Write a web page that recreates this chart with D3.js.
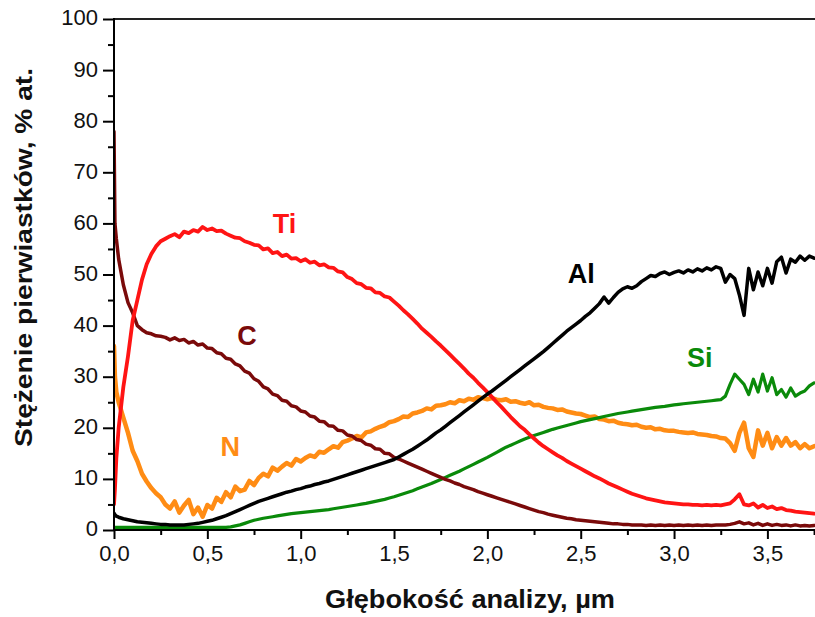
<!DOCTYPE html>
<html>
<head>
<meta charset="utf-8">
<script src="https://cdn.jsdelivr.net/npm/d3@7/dist/d3.min.js"></script>
<style>
  html, body { margin: 0; padding: 0; background: #fff; }
  svg { display: block; font-family: "Liberation Sans", Arial, Helvetica, sans-serif; }
</style>
</head>
<body>
<svg id="chart" width="815" height="617"></svg>
<script>
// ---- data (depth in µm, concentration in % at.) ----
const depth = [
  0, 0.005, 0.0125,
  0.025,0.05,0.075,0.1,0.125,0.15,0.175,0.2,0.225,0.25,
  0.275,0.3,0.325,0.35,0.375,0.4,0.425,0.45,0.475,0.5,
  0.525,0.55,0.575,0.6,0.625,0.65,0.675,0.7,0.725,0.75,
  0.775,0.8,0.825,0.85,0.875,0.9,0.925,0.95,0.975,1.0,
  1.025,1.05,1.075,1.1,1.125,1.15,1.175,1.2,1.225,1.25,
  1.275,1.3,1.325,1.35,1.375,1.4,1.425,1.45,1.475,1.5,
  1.525,1.55,1.575,1.6,1.625,1.65,1.675,1.7,1.725,1.75,
  1.775,1.8,1.825,1.85,1.875,1.9,1.925,1.95,1.975,2.0,
  2.025,2.05,2.075,2.1,2.125,2.15,2.175,2.2,2.225,2.25,
  2.275,2.3,2.325,2.35,2.375,2.4,2.425,2.45,2.475,2.5,
  2.525,2.55,2.575,2.6,2.625,2.65,2.675,2.7,2.725,2.75,
  2.775,2.8,2.825,2.85,2.875,2.9,2.925,2.95,2.975,3.0,
  3.025,3.05,3.075,3.1,3.125,3.15,3.175,3.2,3.225,3.25,
  3.275,3.3,3.325,3.35,3.375,3.4,3.425,3.45,3.475,3.5,
  3.525,3.55,3.575,3.6,3.625,3.65,3.675,3.7,3.725,3.75
];

const ti = [
  5, 8, 14,
  20,28,34,41,45,49,52,54,55.5,56.5,
  57,57.5,57.9,57.3,58.4,58.1,58.7,58.4,59.3,58.7,
  59,58.5,58.6,58,57.6,57.2,57.1,56.5,56.2,55.8,
  55.7,54.9,55.1,54.2,54.4,53.6,53.9,53.1,53.2,52.6,
  53,52.3,52.5,51.8,52,51.4,51.3,50.6,50.4,49.5,
  49.1,48.3,48.1,47.4,47.3,46.5,46.4,45.7,45.5,44.7,
  43.9,43,42.2,41.3,40.4,39.4,38.6,37.8,36.9,36.1,
  35.2,34.3,33.4,32.5,31.6,30.6,29.8,28.8,27.9,27,
  26,25,24.1,23.1,22.1,21.2,20.3,19.6,18.7,17.9,
  17.1,16.4,15.8,15.2,14.6,14.1,13.5,13,12.5,12,
  11.5,11,10.5,10.1,9.6,9.1,8.7,8.3,7.9,7.5,
  7.1,6.8,6.5,6.2,6,5.8,5.6,5.4,5.3,5.2,
  5.1,5,5,4.9,4.9,4.8,4.9,4.8,4.9,4.8,
  5,5.2,6,7,5,4.8,5.2,4.4,4.9,4.3,
  4.6,4.1,4.3,3.9,3.8,3.6,3.5,3.4,3.3,3.2
];

const carbon = [
  78, 60, 57,
  53,48,44.5,42.5,40,39.2,38.6,38.4,38,37.9,
  37.7,37.2,37.6,37.1,37.3,36.6,36.9,36.2,36.4,35.6,
  35.5,34.7,34.5,33.6,33.4,32.5,32.1,31.1,30.7,29.6,
  29.1,28,27.6,26.6,26.3,25.4,25.2,24.3,24.1,23.3,
  23.1,22.3,22.1,21.3,21.2,20.4,20.3,19.5,19.4,18.6,
  18.4,17.7,17.5,16.8,16.6,15.9,15.8,15.0,14.9,14.2,
  13.9,13.5,13.1,12.7,12.3,11.9,11.5,11.1,10.7,10.3,
  9.9,9.6,9.2,8.9,8.5,8.2,7.9,7.5,7.2,6.9,
  6.6,6.3,6,5.7,5.4,5.1,4.8,4.5,4.2,3.9,
  3.6,3.4,3.1,2.9,2.7,2.5,2.3,2.2,2.0,1.9,
  1.8,1.7,1.6,1.5,1.4,1.3,1.2,1.2,1.1,1.1,
  1.0,1.0,1.0,0.9,1.0,0.9,1.0,0.9,1.0,0.9,
  1.0,0.9,1.0,0.9,1.0,0.9,1.0,0.9,1.0,1.0,
  1.0,1.1,1.3,1.6,1.2,1.4,1.0,1.3,0.9,1.2,
  0.9,1.1,0.9,1.0,0.8,1.0,0.8,0.9,0.8,0.9
];

const nitrogen = [
  36, 30, 27,
  25,22,19,15.5,13.5,11,9.5,8.2,7.2,6.4,
  5,4.2,5.6,3.4,4.8,5.9,3.1,4.4,2.6,4.9,
  4.2,6.3,5.5,7.4,6.4,8.5,7.6,7.9,9.6,8.8,
  10.2,11,10.5,12.2,11.6,12.4,13.1,12.6,13.9,13.4,
  14.1,14.6,14.3,15.3,15.1,15.8,16.4,16.1,17.2,17.5,
  17.9,18.4,18.1,19.1,19.3,19.8,20.2,20.5,21.1,21.3,
  21.7,22.2,22.1,22.8,23,23.3,23.8,23.6,24.3,24.4,
  24.6,25,24.8,25.4,25.2,25.7,25.5,26,25.8,25.6,
  25.8,25.5,25.4,25.6,25.1,25.2,24.9,24.7,25,24.4,
  24.5,24.1,23.9,23.8,23.5,23.6,23.2,23,22.8,22.7,
  22.4,22.1,22.2,21.7,21.6,21.3,21.4,21,20.8,20.7,
  20.5,20.6,20.2,20,20.1,19.7,19.8,19.5,19.4,19.4,
  19.2,19.1,19,19.1,18.8,18.7,18.6,18.4,18.3,18,
  17.9,17,15.5,19,21,16,14.3,19.5,16.5,19,
  16,18.2,16.5,18,16.5,17.2,16,16.8,16,16.4
];

const aluminium = [
  3.3, 3, 2.7,
  2.5,2.2,2,1.8,1.6,1.5,1.4,1.3,1.2,1.1,
  1.1,1.0,1.0,1.0,1.0,1.1,1.2,1.3,1.5,1.7,
  1.9,2.2,2.5,2.8,3.2,3.6,4,4.4,4.8,5.2,
  5.6,5.9,6.2,6.5,6.8,7.1,7.4,7.6,7.9,8.1,
  8.4,8.6,8.9,9.1,9.4,9.6,9.9,10.2,10.5,10.8,
  11.1,11.4,11.7,12,12.3,12.6,12.9,13.2,13.5,13.8,
  14.3,14.8,15.3,15.8,16.4,17,17.6,18.3,19,19.6,
  20.3,21,21.7,22.4,23.1,23.8,24.5,25.2,25.9,26.6,
  27.2,27.9,28.6,29.3,30,30.7,31.4,32.1,32.8,33.5,
  34.2,34.9,35.7,36.5,37.3,38.1,38.9,39.6,40.3,41,
  41.8,42.5,43.4,44.3,45.6,44.4,45.5,46.5,47.2,47.6,
  47.3,47.8,48.6,49.2,49.8,49.6,50.2,50.5,50,50.4,
  50.7,50.3,50.9,50.5,51.1,50.7,51.3,50.9,51.5,51.2,
  48.5,50,49.2,46,42,51.2,47,50.5,47.8,51.2,
  48.3,52.5,53.4,50.3,53,52.4,53.6,52.8,53.6,53.2
];

const silicon = [
  0.5, 0.5, 0.5,
  0.5,0.5,0.5,0.5,0.5,0.5,0.5,0.5,0.5,0.5,
  0.5,0.5,0.5,0.5,0.5,0.5,0.5,0.5,0.5,0.5,
  0.5,0.5,0.5,0.5,0.6,0.8,1.0,1.3,1.6,1.9,
  2.1,2.3,2.45,2.6,2.75,2.9,3.05,3.2,3.3,3.4,
  3.5,3.6,3.7,3.8,3.9,4.0,4.15,4.3,4.45,4.6,
  4.75,4.9,5.05,5.2,5.4,5.6,5.8,6,6.25,6.5,
  6.8,7.1,7.4,7.7,8.05,8.4,8.75,9.1,9.5,9.9,
  10.3,10.7,11.1,11.5,11.95,12.4,12.85,13.3,13.75,14.2,
  14.7,15.2,15.7,16.2,16.6,17,17.4,17.8,18.15,18.5,
  18.8,19.1,19.4,19.7,19.95,20.2,20.45,20.7,20.95,21.2,
  21.4,21.6,21.8,22,22.2,22.4,22.6,22.8,22.95,23.1,
  23.25,23.4,23.55,23.7,23.85,24,24.1,24.2,24.35,24.5,
  24.6,24.7,24.8,24.9,25,25.1,25.2,25.3,25.4,25.5,
  26.2,28.5,30.5,29.5,28.5,26.5,29.5,27,30.5,27.2,
  29.8,26.5,27.5,26,27.8,26.2,26.8,27.2,28.2,28.8
];

const xTicks = [0, 0.5, 1.0, 1.5, 2.0, 2.5, 3.0, 3.5];
const xMinorTicks = [0.25, 0.75, 1.25, 1.75, 2.25, 2.75, 3.25, 3.75];
const yTicks = [0, 10, 20, 30, 40, 50, 60, 70, 80, 90, 100];
const yMinorTicks = [5, 15, 25, 35, 45, 55, 65, 75, 85, 95];

const seriesNames = ["N", "Si", "C", "Ti", "Al"];
const seriesValues = [nitrogen, silicon, carbon, ti, aluminium];
const seriesColors = ["#ff8c14", "#0a8a0a", "#7a0a0a", "#ff1414", "#000000"];
const seriesWidths = [4.5, 3.2, 3.5, 3.8, 3.5];
// label anchor positions in data units (depth, value)
const labelPos = [[0.57, 14.4], [3.07, 31.9], [0.66, 36.3], [0.85, 58.2], [2.43, 48.3]];

// ---- chart ----
const svg = d3.select("#chart");
const mLeft = 114, mRight = 815, mTop = 19, mBottom = 530;
const x = d3.scaleLinear().domain([0, 3.755]).range([mLeft, mRight]);
const y = d3.scaleLinear().domain([0, 100]).range([mBottom, mTop]);

const fmtX = d => d3.format(".1f")(d).replace(".", ",");

// top frame line
svg.append("line")
  .attr("x1", mLeft).attr("x2", mRight)
  .attr("y1", y(100)).attr("y2", y(100))
  .attr("stroke", "#222").attr("stroke-width", 2);

// clip
svg.append("clipPath").attr("id", "plotclip")
  .append("rect").attr("x", mLeft).attr("y", mTop - 5)
  .attr("width", mRight - mLeft + 5).attr("height", mBottom - mTop + 5);

const line = vals => d3.line()
  .x((d, i) => x(depth[i]))
  .y(d => y(d))(vals);

const plot = svg.append("g").attr("clip-path", "url(#plotclip)");
seriesValues.forEach((vals, k) => {
  plot.append("path")
    .attr("d", line(vals))
    .attr("fill", "none")
    .attr("stroke", seriesColors[k])
    .attr("stroke-width", seriesWidths[k])
    .attr("stroke-linejoin", "round")
    .attr("stroke-linecap", "round");
});

// axes
const xAxis = svg.append("g").attr("transform", `translate(0,${mBottom})`)
  .call(d3.axisBottom(x).tickValues(xTicks).tickFormat(fmtX).tickSize(9).tickSizeOuter(0).tickPadding(6));
const xMinor = svg.append("g").attr("transform", `translate(0,${mBottom})`)
  .call(d3.axisBottom(x).tickValues(xMinorTicks).tickFormat("").tickSize(5).tickSizeOuter(0));
const yAxis = svg.append("g").attr("transform", `translate(${mLeft},0)`)
  .call(d3.axisLeft(y).tickValues(yTicks).tickSize(11).tickSizeOuter(0).tickPadding(5));
const yMinor = svg.append("g").attr("transform", `translate(${mLeft},0)`)
  .call(d3.axisLeft(y).tickValues(yMinorTicks).tickFormat("").tickSize(6).tickSizeOuter(0));

[xAxis, xMinor, yAxis, yMinor].forEach(g => {
  g.select(".domain").remove();
  g.selectAll(".tick line").attr("stroke", "#000").attr("stroke-width", 2);
  g.selectAll("text").attr("font-size", 22).attr("fill", "#111")
    .attr("font-family", '"Liberation Sans", Arial, sans-serif');
});
yAxis.selectAll("text").attr("dy", "0.27em");
xAxis.selectAll("text").attr("dy", "0.72em");

// axis lines
svg.append("line").attr("x1", mLeft).attr("x2", mRight).attr("y1", mBottom).attr("y2", mBottom)
  .attr("stroke", "#000").attr("stroke-width", 2);
svg.append("line").attr("x1", mLeft).attr("x2", mLeft).attr("y1", mTop - 1).attr("y2", mBottom + 1)
  .attr("stroke", "#000").attr("stroke-width", 2);

// axis titles
svg.append("text")
  .attr("x", 470).attr("y", 608)
  .attr("text-anchor", "middle")
  .attr("font-size", 25).attr("font-weight", "bold").attr("fill", "#111")
  .attr("textLength", 290).attr("lengthAdjust", "spacingAndGlyphs")
  .text("Głębokość analizy, µm");

svg.append("text")
  .attr("transform", "translate(32,257.5) rotate(-90)")
  .attr("text-anchor", "middle")
  .attr("font-size", 24).attr("font-weight", "bold").attr("fill", "#111")
  .attr("textLength", 379).attr("lengthAdjust", "spacingAndGlyphs")
  .text("Stężenie pierwiastków, % at.");

// series labels
seriesNames.forEach((name, k) => {
  svg.append("text")
    .attr("x", x(labelPos[k][0])).attr("y", y(labelPos[k][1]))
    .attr("font-size", 27).attr("font-weight", "bold")
    .attr("fill", seriesColors[k])
    .text(name);
});
</script>
</body>
</html>
